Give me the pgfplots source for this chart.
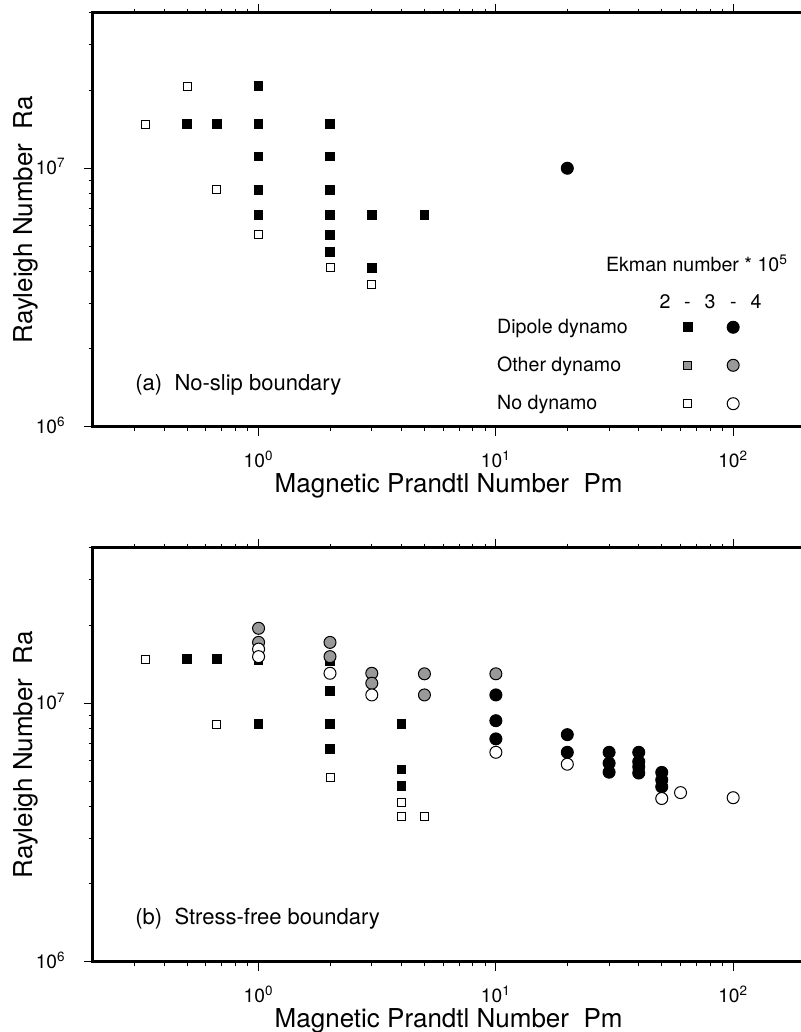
\documentclass[border=0pt]{standalone}
\usepackage{pgfplots}
\pgfplotsset{compat=1.18}
\usepackage{fontspec}
\setmainfont{TeX Gyre Heros}
\definecolor{mygray}{gray}{0.6}

\pgfplotsset{
  sqfill/.style={only marks, mark=square*, mark size=2.15pt, mark options={fill=black, draw=black, line width=0.5pt}},
  sqgray/.style={only marks, mark=square*, mark size=2.0pt, mark options={fill=mygray, draw=black, line width=0.5pt}},
  sqopen/.style={only marks, mark=square*, mark size=2.0pt, mark options={fill=white, draw=black, line width=0.5pt}},
  cfill/.style={only marks, mark=*, mark size=3.0pt, mark options={fill=black, draw=black, line width=0.5pt}},
  cgray/.style={only marks, mark=*, mark size=3.0pt, mark options={fill=mygray, draw=black, line width=0.5pt}},
  copen/.style={only marks, mark=*, mark size=3.0pt, mark options={fill=white, draw=black, line width=0.5pt}},
}

\begin{document}
\begin{tikzpicture}
% ---------------- (a) No-slip ----------------
\begin{axis}[at={(46.35pt,302.65pt)}, anchor=south west,
    xmode=log, ymode=log,
    scale only axis, width=355.95pt, height=207pt,
    xmin=0.2, xmax=200, ymin=1e6, ymax=4e7,
    axis line style={line width=1.25pt},
    tick style={line width=0.5pt, black},
    tick align=outside,
    major tick length=4.5pt, minor tick length=2pt,
    xtick={1,10,100},
    xticklabels={10\textsuperscript{0},10\textsuperscript{1},10\textsuperscript{2}},
    minor xtick={0.3,0.4,0.5,0.6,0.7,0.8,0.9,2,3,4,5,6,7,8,9,20,30,40,50,60,70,80,90},
    ytick={1e6,1e7},
    yticklabels={10\textsuperscript{6},10\textsuperscript{7}},
    minor ytick={2e6,3e6,4e6,5e6,6e6,7e6,8e6,9e6,2e7,3e7,4e7},
    xtick pos=both, ytick pos=left, xticklabel pos=lower,
    tick label style={font=\fontsize{9.6}{11}\selectfont},
    xticklabel style={anchor=base, inner sep=0pt, yshift=-16.15pt},
    yticklabel style={anchor=base east, inner sep=0pt, xshift=-8.85pt, yshift=-3.3pt},
    xlabel={Magnetic Prandtl Number\ \ Pm},
    ylabel={Rayleigh Number\ \ Ra},
    every axis x label/.style={at={(axis description cs:0.5,0)}, anchor=base, yshift=-32.75pt, font=\fontsize{13}{15}\selectfont},
    every axis y label/.style={at={(axis description cs:0,0.5)}, xshift=-30.1pt, rotate=90, anchor=base, font=\fontsize{13}{15}\selectfont},
    clip=false]
\addplot[sqopen] coordinates {(0.333,1.48e7) (0.5,2.08e7) (0.667,8.24e6) (1,5.52e6) (2,4.12e6) (3,3.56e6)};
\addplot[sqfill] coordinates {(0.5,1.48e7) (0.667,1.48e7) (1,2.08e7) (1,1.48e7) (1,1.11e7) (1,8.24e6) (1,6.58e6)
  (2,1.48e7) (2,1.11e7) (2,8.24e6) (2,6.58e6) (2,5.52e6) (2,4.73e6) (3,6.58e6) (3,4.12e6) (5,6.58e6)};
\addplot[cfill] coordinates {(20,1e7)};
% legend symbols
\addplot[sqfill] coordinates {(64.4,2.425e6)};
\addplot[sqgray] coordinates {(64.4,1.728e6)};
\addplot[sqopen] coordinates {(64.4,1.227e6)};
\addplot[cfill] coordinates {(100,2.425e6)};
\addplot[cgray] coordinates {(100,1.728e6)};
\addplot[copen] coordinates {(100,1.227e6)};
\end{axis}
% ---------------- (b) Stress-free ----------------
\begin{axis}[at={(46.35pt,35.15pt)}, anchor=south west,
    xmode=log, ymode=log,
    scale only axis, width=355.95pt, height=207pt,
    xmin=0.2, xmax=200, ymin=1e6, ymax=4e7,
    axis line style={line width=1.25pt},
    tick style={line width=0.5pt, black},
    tick align=outside,
    major tick length=4.5pt, minor tick length=2pt,
    xtick={1,10,100},
    xticklabels={10\textsuperscript{0},10\textsuperscript{1},10\textsuperscript{2}},
    minor xtick={0.3,0.4,0.5,0.6,0.7,0.8,0.9,2,3,4,5,6,7,8,9,20,30,40,50,60,70,80,90},
    ytick={1e6,1e7},
    yticklabels={10\textsuperscript{6},10\textsuperscript{7}},
    minor ytick={2e6,3e6,4e6,5e6,6e6,7e6,8e6,9e6,2e7,3e7,4e7},
    xtick pos=both, ytick pos=left, xticklabel pos=lower,
    tick label style={font=\fontsize{9.6}{11}\selectfont},
    xticklabel style={anchor=base, inner sep=0pt, yshift=-16.15pt},
    yticklabel style={anchor=base east, inner sep=0pt, xshift=-8.85pt, yshift=-3.3pt},
    xlabel={Magnetic Prandtl Number\ \ Pm},
    ylabel={Rayleigh Number\ \ Ra},
    every axis x label/.style={at={(axis description cs:0.5,0)}, anchor=base, yshift=-32.75pt, font=\fontsize{13}{15}\selectfont},
    every axis y label/.style={at={(axis description cs:0,0.5)}, xshift=-30.1pt, rotate=90, anchor=base, font=\fontsize{13}{15}\selectfont},
    clip=false]
\addplot[sqopen] coordinates {(0.333,1.48e7) (0.667,8.3e6) (2,5.17e6) (4,4.12e6) (4,3.66e6) (5,3.66e6)};
\addplot[sqfill] coordinates {(0.5,1.48e7) (0.667,1.48e7) (1,1.47e7) (1,8.3e6) (2,1.46e7) (2,1.116e7) (2,8.3e6) (2,6.66e6)
  (4,8.3e6) (4,5.55e6) (4,4.79e6)};
\addplot[cgray] coordinates {(1,1.95e7) (1,1.72e7) (2,1.72e7) (2,1.515e7) (3,1.306e7) (3,1.195e7) (5,1.3e7) (5,1.077e7) (10,1.3e7)};
\addplot[cfill] coordinates {(10,1.077e7) (10,8.56e6) (10,7.28e6) (20,7.56e6) (20,6.46e6)
  (30,6.46e6) (30,5.86e6) (30,5.41e6) (40,6.46e6) (40,5.94e6) (40,5.67e6) (40,5.37e6)
  (50,5.4e6) (50,5.05e6) (50,4.75e6)};
\addplot[copen] coordinates {(1,1.62e7) (1,1.515e7) (2,1.306e7) (3,1.077e7) (10,6.46e6) (20,5.81e6) (50,4.28e6) (60,4.51e6) (100,4.31e6)};
\end{axis}
% ---------------- text (image pixel coordinates) ----------------
\begin{scope}[x=0.5pt, y=-0.5pt, shift={(0pt,516pt)}]
\node[anchor=base west, inner sep=0pt, font=\fontsize{11}{13}\selectfont] at (135,390.7) {(a)\ \ No-slip boundary};
\node[anchor=base west, inner sep=0pt, font=\fontsize{11}{13}\selectfont] at (135,925) {(b)\ \ Stress-free boundary};
\begin{scope}[every node/.style={inner sep=0pt, font=\fontsize{9.8}{11}\selectfont}]
\node[anchor=base west] at (605.7,271.7) {Ekman number * 10\textsuperscript{5}};
\node[anchor=base] at (665,308.3) {2};
\node[anchor=base] at (687.5,308.3) {-};
\node[anchor=base] at (710,308.3) {3};
\node[anchor=base] at (733.5,308.3) {-};
\node[anchor=base] at (756,308.3) {4};
\node[anchor=base west] at (496.7,333.3) {Dipole dynamo};
\node[anchor=base west] at (496.7,371.5) {Other dynamo};
\node[anchor=base west] at (496.7,409.5) {No dynamo};
\end{scope}
\end{scope}
\pgfresetboundingbox
\path[use as bounding box] (0,0) rectangle (400.5pt,516pt);
\end{tikzpicture}
\end{document}
